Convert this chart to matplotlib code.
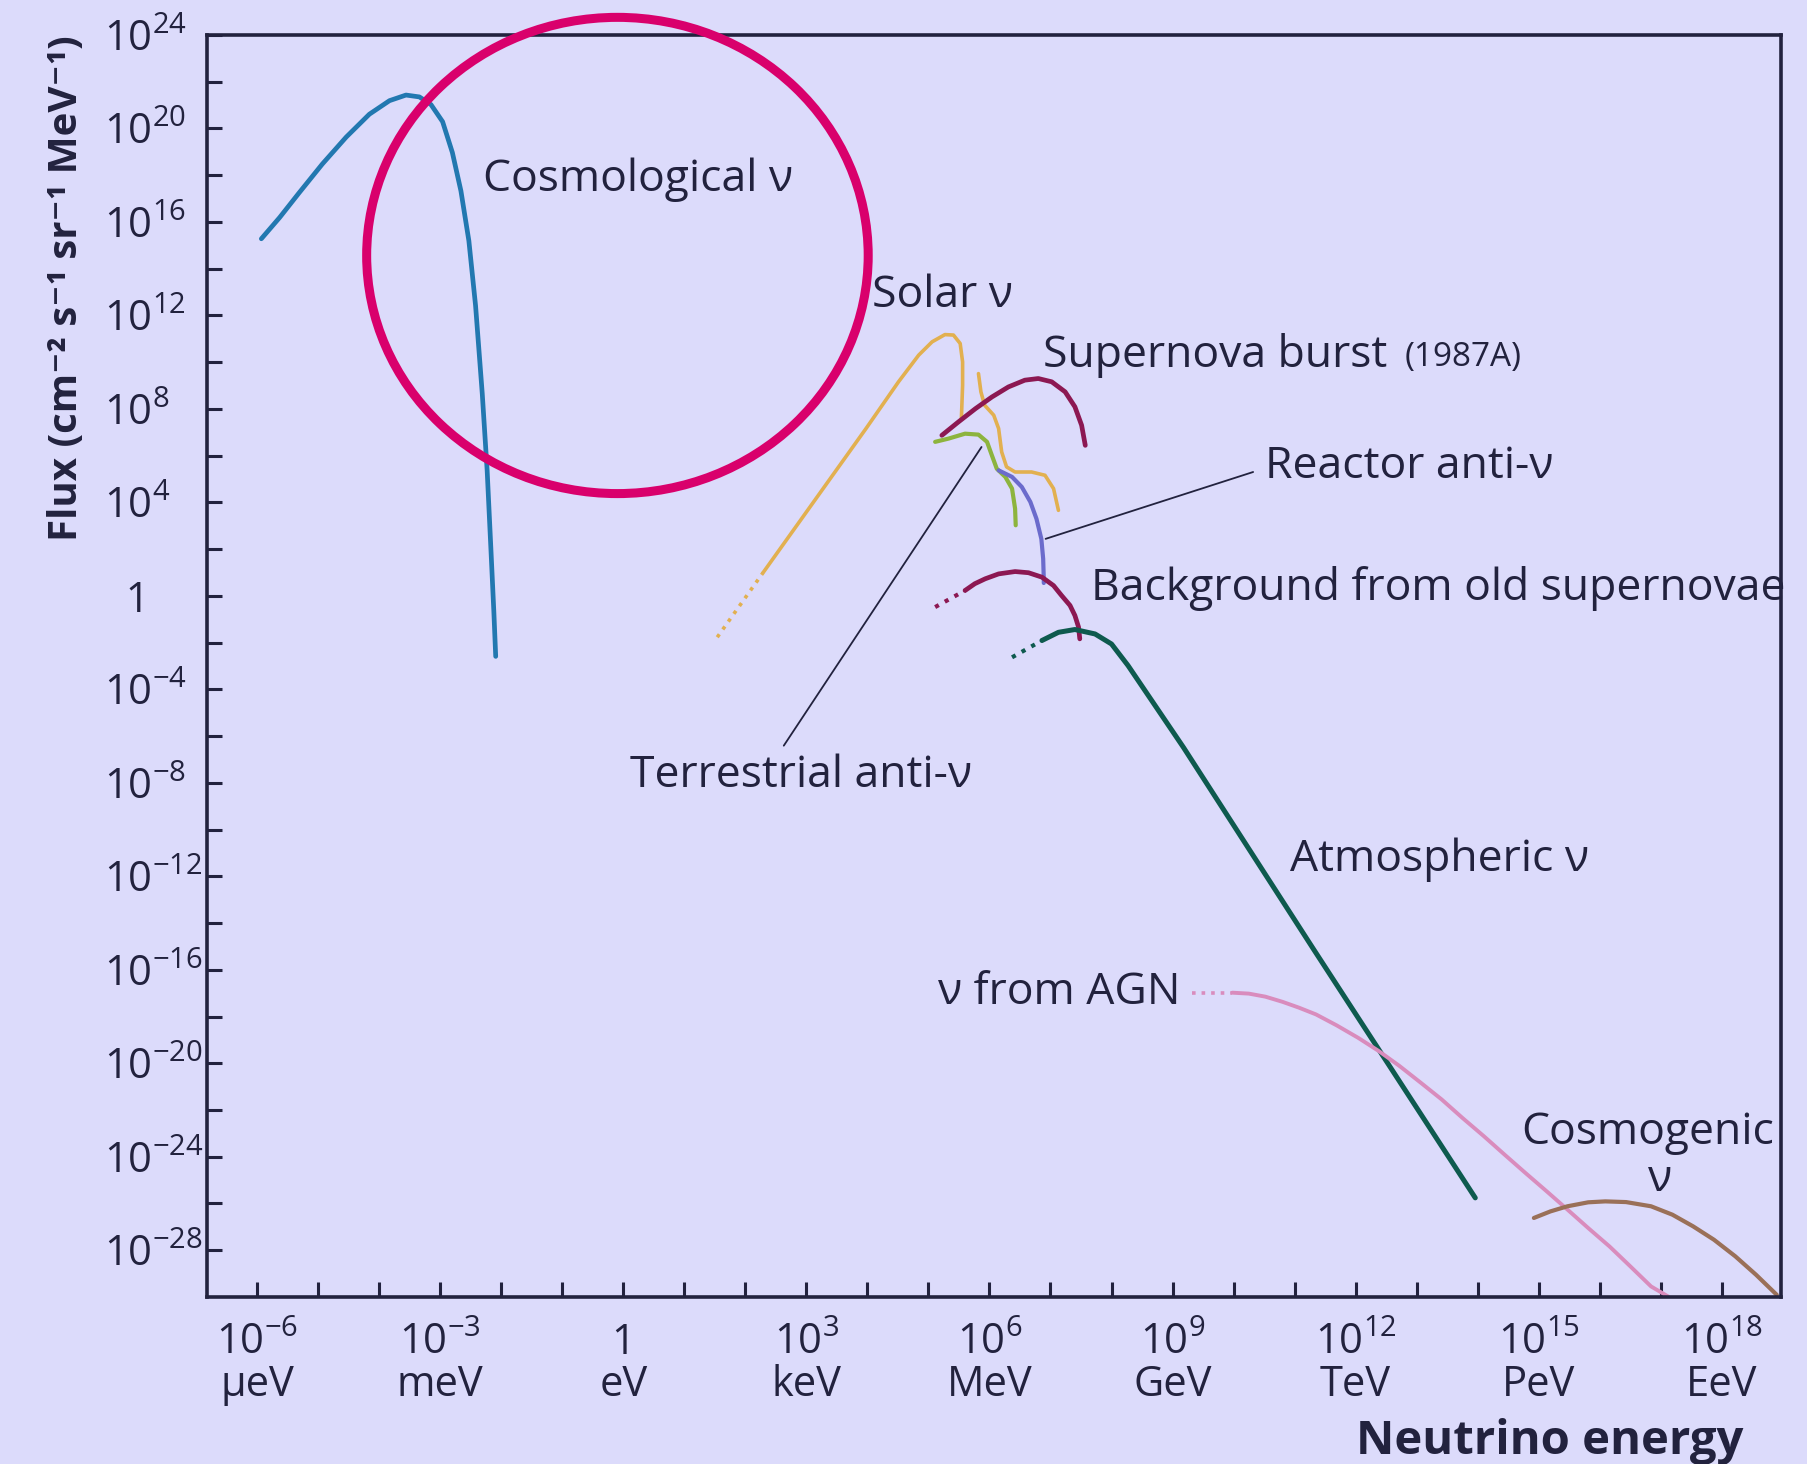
import numpy as np
import matplotlib
matplotlib.use("Agg")
import matplotlib.pyplot as plt
from matplotlib.patches import Ellipse

plt.rcParams["font.family"] = ["Open Sans", "DejaVu Sans"]
plt.rcParams["mathtext.fontset"] = "custom"
plt.rcParams["mathtext.rm"] = "Open Sans"
plt.rcParams["mathtext.it"] = "Open Sans:italic"
plt.rcParams["mathtext.bf"] = "Open Sans:bold"

# log10 of energy (eV) and log10 of flux
cosmo_e = [-5.93, -5.63, -5.31, -4.93, -4.54, -4.16, -3.83, -3.56, -3.34, -3.15, -2.96,
           -2.80, -2.66, -2.53, -2.42, -2.31, -2.23, -2.17, -2.12, -2.09]
cosmo_f = [15.28, 16.19, 17.25, 18.48, 19.63, 20.61, 21.19, 21.43, 21.35, 21.02, 20.29,
           18.97, 17.33, 15.20, 12.42, 8.64, 5.36, 2.08, -0.70, -2.59]

solar_dot_e = [1.54, 2.29]
solar_dot_f = [-1.77, 0.99]
solar_e = [2.29, 3.98, 4.51, 4.84, 5.06, 5.27, 5.41, 5.52, 5.56, 5.56, 5.54]
solar_f = [0.99, 7.17, 9.16, 10.30, 10.87, 11.18, 11.16, 10.80, 10.01, 9.01, 7.59]
solar2_e = [5.82, 5.86, 5.92, 6.07, 6.15, 6.20, 6.28, 6.42, 6.69, 6.91, 7.05, 7.13]
solar2_f = [9.51, 8.73, 8.16, 7.73, 7.16, 6.16, 5.52, 5.30, 5.30, 5.16, 4.59, 3.66]

sn_e = [5.22, 5.49, 5.77, 6.04, 6.31, 6.58, 6.80, 7.02, 7.24, 7.40, 7.51, 7.57]
sn_f = [6.87, 7.44, 8.01, 8.51, 8.94, 9.23, 9.30, 9.16, 8.73, 8.09, 7.30, 6.44]

terr_e = [5.11, 5.33, 5.60, 5.82, 5.96, 6.04, 6.12, 6.26, 6.37, 6.42, 6.43]
terr_f = [6.59, 6.73, 6.94, 6.90, 6.59, 6.01, 5.44, 5.09, 4.59, 3.73, 3.02]

reac_e = [6.15, 6.37, 6.53, 6.67, 6.77, 6.85, 6.88, 6.89, 6.89]
reac_f = [5.37, 5.09, 4.66, 4.02, 3.30, 2.44, 1.59, 0.73, 0.55]

bg_dot_e = [5.11, 5.60]
bg_dot_f = [-0.48, 0.23]
bg_e = [5.60, 5.76, 5.93, 6.15, 6.42, 6.64, 6.86, 7.05, 7.18, 7.32, 7.40, 7.46, 7.48]
bg_f = [0.23, 0.52, 0.73, 0.94, 1.04, 0.99, 0.80, 0.44, 0.02, -0.41, -0.84, -1.34, -1.84]

atm_dot_e = [6.37, 6.86]
atm_dot_f = [-2.63, -1.91]
atm_e = [6.86, 7.13, 7.40, 7.73, 8.00, 8.27, 9.18, 11.31, 13.96]
atm_f = [-1.91, -1.56, -1.44, -1.63, -2.06, -2.98, -6.49, -15.12, -25.76]

agn_dot_e = [9.32, 9.98]
agn_dot_f = [-16.98, -16.98]
agn_e = [9.98, 10.25, 10.52, 10.80, 11.07, 11.35, 11.69, 12.04, 12.38, 12.72, 13.07,
         13.41, 13.75, 14.10, 14.44, 14.78, 15.13, 15.47, 15.81, 16.16, 16.50, 16.84, 17.12]
agn_f = [-16.98, -17.02, -17.15, -17.37, -17.62, -17.91, -18.38, -18.91, -19.48, -20.12, -20.84,
         -21.55, -22.34, -23.12, -23.91, -24.69, -25.48, -26.26, -27.05, -27.84, -28.69, -29.55, -29.98]

cmg_e = [14.92, 15.19, 15.47, 15.81, 16.09, 16.43, 16.84, 17.19, 17.53, 17.87, 18.22, 18.56, 18.90]
cmg_f = [-26.62, -26.34, -26.12, -25.95, -25.91, -25.94, -26.12, -26.48, -26.98, -27.55, -28.26, -29.05, -29.91]

x_tick_exp = list(range(-6, 19, 3))
x_tick_units = ["μeV", "meV", "eV", "keV", "MeV", "GeV", "TeV", "PeV", "EeV"]
y_tick_exp = list(range(24, -29, -4))

bg = "#dcdbfb"
ink = "#22223e"

fig = plt.figure(figsize=(18.08, 14.64), dpi=100, facecolor=bg)
ax = fig.add_axes([0.1145, 0.1141, 0.8706, 0.862])
ax.set_facecolor(bg)
ax.set_xscale("log")
ax.set_yscale("log")


def line(e, f, color, lw, ls="-"):
    ax.plot(10.0 ** np.array(e), 10.0 ** np.array(f), color=color, lw=lw, ls=ls,
            solid_capstyle="round", solid_joinstyle="round")


line(cosmo_e, cosmo_f, "#2278b0", 3.4)
line(solar_dot_e, solar_dot_f, "#e2b050", 2.6, ":")
line(solar_e, solar_f, "#e2b050", 2.6)
line(solar2_e, solar2_f, "#e2b050", 2.6)
line(sn_e, sn_f, "#8c1852", 3.4)
line(terr_e, terr_f, "#8db43e", 3.0)
line(reac_e, reac_f, "#6b6bcc", 3.0)
line(bg_dot_e, bg_dot_f, "#8c1852", 3.0, ":")
line(bg_e, bg_f, "#8c1852", 3.4)
line(atm_dot_e, atm_dot_f, "#0e5a4e", 3.0, ":")
line(atm_e, atm_f, "#0e5a4e", 3.6)
line(agn_dot_e, agn_dot_f, "#d98cbd", 2.6, ":")
line(agn_e, agn_f, "#d98cbd", 2.8)
line(cmg_e, cmg_f, "#9a7058", 3.0)

ax.set_xlim(10 ** -6.82, 10 ** 18.97)
ax.set_ylim(1e-30, 1e24)

ax.set_xticks([10.0 ** k for k in range(-6, 19)], minor=True)
ax.set_xticks([10.0 ** k for k in x_tick_exp])
xl = []
for k, u in zip(x_tick_exp, x_tick_units):
    top = "1" if k == 0 else r"$10^{%d}$" % k
    xl.append(top + "\n" + u)
ax.set_xticklabels(xl)

ax.set_yticks([10.0 ** k for k in range(-28, 25, 2)], minor=True)
ax.set_yticks([10.0 ** k for k in y_tick_exp])
ax.set_yticklabels(["  1" if k == 0 else r"$10^{%d}$" % k for k in y_tick_exp])

for a in ("x", "y"):
    ax.tick_params(axis=a, which="both", direction="in", length=11, width=2.2,
                   color=ink, labelcolor=ink, labelsize=30)
ax.tick_params(axis="x", which="major", pad=18)
ax.tick_params(axis="y", which="major", pad=74)
for t in ax.get_yticklabels():
    t.set_horizontalalignment("left")
for t in ax.get_xticklabels():
    t.set_linespacing(1.0)
ax.tick_params(axis="x", which="minor", labelbottom=False)
ax.tick_params(axis="y", which="minor", labelleft=False)
for s in ax.spines.values():
    s.set_color(ink)
    s.set_linewidth(2.6)

# curve labels
tkw = dict(color=ink, fontsize=32, va="center", ha="left")
ax.text(10 ** -2.29, 10 ** 17.82, "Cosmological ν", **tkw)
ax.text(10 ** 4.07, 10 ** 12.83, "Solar ν", **tkw)
ax.text(10 ** 6.88, 10 ** 10.28, "Supernova burst", **tkw)
ax.text(10 ** 12.80, 10 ** 10.20, "(1987A)", color=ink, fontsize=24, va="center", ha="left")
ax.text(10 ** 10.51, 10 ** 5.53, "Reactor anti-ν", **tkw)
ax.text(10 ** 7.67, 10 ** 0.30, "Background from old supernovae", **tkw)
ax.text(10 ** 0.11, 10 ** -7.69, "Terrestrial anti-ν", **tkw)
ax.text(10 ** 10.92, 10 ** -11.28, "Atmospheric ν", **tkw)
ax.text(10 ** 5.15, 10 ** -16.98, "ν from AGN", **tkw)
ax.text(10 ** 16.79, 10 ** -22.98, "Cosmogenic", color=ink, fontsize=32, va="center", ha="center")
ax.text(10 ** 16.98, 10 ** -24.98, "ν", color=ink, fontsize=32, va="center", ha="center")

# leader lines
lk = dict(arrowstyle="-", color=ink, lw=1.3, shrinkA=0, shrinkB=0)
ax.annotate("", xy=(10 ** 6.92, 10 ** 2.44), xytext=(10 ** 10.32, 10 ** 5.30), arrowprops=lk)
ax.annotate("", xy=(10 ** 5.87, 10 ** 6.37), xytext=(10 ** 2.63, 10 ** -6.41), arrowprops=lk)

fig.text(0.964, 0.0157, "Neutrino energy", color=ink, fontsize=34, fontweight="bold",
         ha="right", va="center")
fig.text(0.037, 0.803, "Flux (cm⁻² s⁻¹ sr⁻¹ MeV⁻¹)", color=ink, fontsize=29,
         fontweight="bold", rotation=90, ha="center", va="center")

# hand-drawn highlight circle
fig.patches.append(Ellipse((0.3415, 0.8255), 0.2774, 0.3253, transform=fig.transFigure,
                           fill=False, edgecolor="#d9006c", lw=6.5))

fig.savefig("out.png", dpi=100, facecolor=bg)
